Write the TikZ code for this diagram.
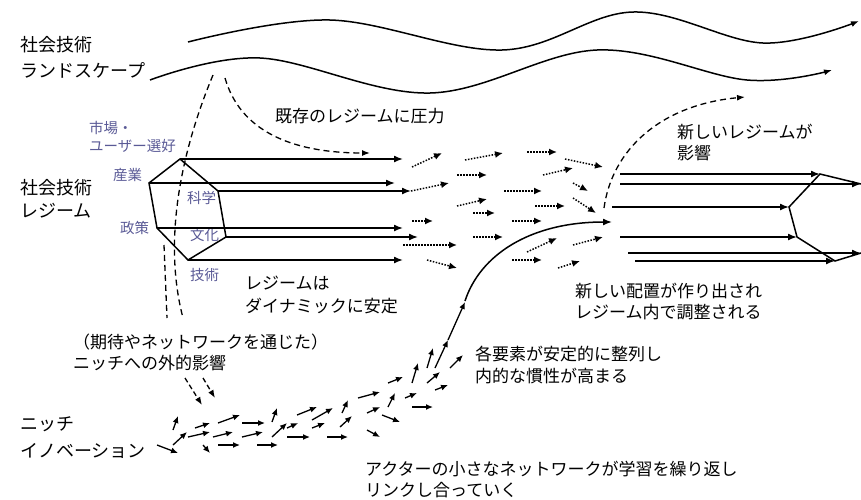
\documentclass[tikz,border=0pt]{standalone}
\usepackage{fontspec}
\setmainfont{Noto Sans CJK JP}
\usetikzlibrary{arrows.meta}
\definecolor{lbl}{RGB}{90,90,150}
\begin{document}
\begin{tikzpicture}[x=1pt,y=-1pt,
  txt/.style={font=\fontsize{17}{22}\selectfont, inner sep=0pt, anchor=west, align=left},
  sub/.style={font=\fontsize{14.5}{18}\selectfont, text=lbl, inner sep=0pt, anchor=west, align=left},
  wave/.style={line width=1.5pt, -{Latex[length=8pt,width=6pt]}},
  solidarr/.style={line width=1.5pt, -{Latex[length=9pt,width=7pt]}},
  dotarr/.style={line width=1.5pt, dash pattern=on 1.5pt off 1.5pt, -{Latex[length=8pt,width=7pt]}},
  dashline/.style={line width=1.3pt, dash pattern=on 6pt off 4pt},
  dasharr/.style={dashline, -{Latex[length=8pt,width=6pt]}},
  nich/.style={line width=1.3pt, -{Latex[length=7pt,width=6pt]}},
  hexe/.style={line width=1.5pt, line join=miter}
]
\useasboundingbox (0,0) rectangle (861,499);

% ---------- texts ----------
\node[txt, font=\fontsize{18}{26}\selectfont] (land) at (20,57) {社会技術\\ランドスケープ};
\node[txt, font=\fontsize{18}{23}\selectfont] (reg) at (20,199) {社会技術\\レジーム};
\node[txt] (press) at (275,116) {既存のレジームに圧力};
\node[txt, font=\fontsize{17}{23}\selectfont] (stab) at (245,295) {レジームは\\ダイナミックに安定};
\node[txt, font=\fontsize{17}{21}\selectfont] (ext) at (73,352) {（期待やネットワークを通じた）\\ニッチへの外的影響};
\node[txt, font=\fontsize{18}{27}\selectfont] (niche) at (20,438) {ニッチ\\イノベーション};
\node[txt, font=\fontsize{17}{21}\selectfont] (newreg) at (677,142) {新しいレジームが\\影響};
\node[txt, font=\fontsize{17}{21}\selectfont] (newconf) at (575,302) {新しい配置が作り出され\\レジーム内で調整される};
\node[txt] (alig) at (475,365) {各要素が安定的に整列し\\内的な慣性が高まる};
\node[txt, font=\fontsize{17}{21}\selectfont] (actor) at (365,479) {アクターの小さなネットワークが学習を繰り返し\\リンクし合っていく};

% regime labels
\node[sub] (market) at (89,137) {市場・\\ユーザー選好};
\node[sub] (ind) at (113,175) {産業};
\node[sub] (sci) at (187,198) {科学};
\node[sub] (pol) at (120,228) {政策};
\node[sub] (cul) at (190,235) {文化};
\node[sub] (tec) at (190,275) {技術};

% ---------- landscape waves ----------
\draw[wave] plot[smooth, tension=0.6] coordinates {(188,42) (330,20) (502,50) (633,12) (763,43) (859,21)};
\draw[wave] plot[smooth, tension=0.6] coordinates {(150,80) (260,58) (430,93) (597,50) (747,80) (832,70)};

% ---------- dashed influences ----------
\draw[dashline] (213,75) .. controls (188,135) and (160,230) .. (183,318);
\draw[dashline] (164,245) -- (167,318);
\draw[line width=1.3pt, dash pattern=on 5pt off 3pt, -{Latex[length=8pt,width=6pt]}] (185,378) -- (202,405);
\draw[line width=1.3pt, dash pattern=on 5pt off 3pt, -{Latex[length=8pt,width=6pt]}] (203,378) -- (215,398);
\draw[dasharr] (225,78) .. controls (240,130) and (290,153) .. (370,153);
\draw[dasharr] (604,208) .. controls (612,150) and (660,105) .. (745,97);

% ---------- existing regime hexagon ----------
\coordinate (hT) at (180,159);
\coordinate (hLT) at (149,183);
\coordinate (hLB) at (157,228);
\coordinate (hB) at (188,260);
\coordinate (hRB) at (226,237);
\coordinate (hRT) at (218,191);
\draw[hexe] (hT)--(hLT)--(hLB)--(hB)--(hRB)--(hRT)--cycle;
\coordinate (eT) at (403,159);
\coordinate (eLT) at (395,183);
\coordinate (eRT) at (411,191);
\coordinate (eLB) at (403,228);
\coordinate (eRB) at (418,237);
\coordinate (eB) at (403,260);
\draw[solidarr] (hT) -- (eT);
\draw[solidarr] (hLT) -- (eLT);
\draw[solidarr] (hRT) -- (eRT);
\draw[solidarr] (hLB) -- (eLB);
\draw[solidarr] (hRB) -- (eRB);
\draw[solidarr] (hB) -- (eB);

% ---------- dotted transitional arrows ----------
\foreach \a/\b/\c/\d in {
 412/167/442/153, 465/160/503/153, 527/152/557/152, 565/159/603/167,
 543/175/573/168, 457/175/487/175, 411/191/449/183, 504/191/542/191,
 573/183/588/191, 457/206/487/199, 473/213/495/213, 535/206/565/206,
 573/198/596/213, 412/221/433/221, 512/221/542/221, 473/237/503/237,
 403/245/457/245, 527/252/557/238, 573/245/603/237, 427/260/457/268,
 512/260/542/260, 558/268/580/261}
  \draw[dotarr] (\a,\b) -- (\c,\d);

% ---------- new regime ----------
\coordinate (nT) at (820,174);
\coordinate (nTR) at (861,184);
\coordinate (nL) at (789,207);
\coordinate (nLB) at (797,237);
\coordinate (nB) at (835,261);
\coordinate (nBR) at (861,253);
\draw[hexe] (nTR)--(nT)--(nL)--(nLB)--(nB)--(nBR);
\coordinate (sA) at (620,174);
\coordinate (sB) at (620,184);
\coordinate (sC) at (612,207);
\coordinate (sD) at (620,237);
\coordinate (sE) at (628,253);
\coordinate (sF) at (635,261);
\draw[solidarr] (sA) -- (nT);
\draw[solidarr] (sB) -- (nTR);
\draw[solidarr] (sC) -- (nL);
\draw[solidarr] (sD) -- (nLB);
\draw[solidarr] (sE) -- (nBR);
\draw[solidarr] (sF) -- (nB);

% ---------- niche arrows ----------
\foreach \a/\b/\c/\d in {
 157/445/178/453, 173/430/178/416, 173/445/187/432, 188/437/210/432,
 195/428/210/423, 203/445/210/453, 213/437/233/432, 218/423/240/415,
 218/445/240/445, 242/423/265/423, 242/437/263/432, 257/445/278/445,
 272/422/277/408, 272/437/287/423, 287/428/298/423, 287/437/310/437,
 297/415/317/407, 312/428/325/423, 312/420/333/408, 327/437/348/437,
 340/427/352/416, 342/413/348/400, 358/398/380/392, 367/413/380/407,
 367/430/380/437, 382/415/400/422, 388/407/395/393, 388/383/403/377,
 405/398/417/393, 412/407/433/407, 412/383/418/363, 427/368/433/348,
 427/383/440/372, 435/368/448/340, 435/390/448/385, 450/368/463/355,
 448/340/465/302}
  \draw[nich] (\a,\b) -- (\c,\d);
\coordinate (cS) at (465,301);
\coordinate (cE) at (612,222);
\draw[solidarr] (cS) .. controls (480,255) and (530,222) .. (cE);
\end{tikzpicture}
\end{document}
